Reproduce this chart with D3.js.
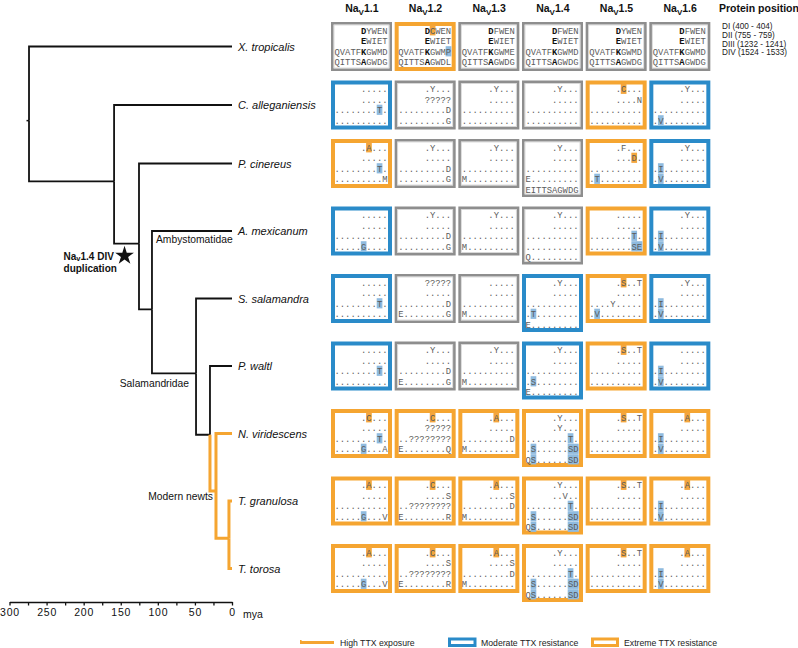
<!DOCTYPE html>
<html><head><meta charset="utf-8">
<script src="https://cdn.jsdelivr.net/npm/d3@7"></script>
<style>body{margin:0;background:#fff}svg{display:block}</style>
</head><body><svg id="c" width="798" height="648"></svg>
<script>
// ---------------- DATA ----------------
const genes = ["1.1","1.2","1.3","1.4","1.5","1.6"];
const species = ["X. tropicalis","C. alleganiensis","P. cinereus","A. mexicanum","S. salamandra","P. waltl","N. viridescens","T. granulosa","T. torosa"];
const proteinPositions = ["DI (400 - 404)","DII (755 - 759)","DIII (1232 - 1241)","DIV (1524 - 1533)"];
// n = no resistance (grey), m = moderate (blue), e = extreme (orange), one letter per gene
const resistance = ["nennnn","mnnnem","ennnem","mnnnem","mnnmem","mnnmem","eeeeee","eeeeee","eeeeee"];
// sequence lines separated by "|"; ^ = bold, * = orange highlight, # = blue highlight (applies to next char)
const seqXtropicalis = ["^DYWEN|^EWIET|QVATF^KGWMD|QITTS^AGWDG","^D*CWEN|^EWIET|QVATF^KGWM#P|QITTS^AGWDL","^DFWEN|^EWIET|QVATF^KGWME|QITTS^AGWDG","^DFWEN|^EWIET|QVATF^KGWMD|QITTS^AGWDG","^DYWEN|^EWIET|QVATF^KGWMD|QITTS^AGWDG","^DFWEN|^EWIET|QVATF^KGWMD|QITTS^AGWDG"];
const seqCalleganiensis = [".....|.....|........#T.|..........",".Y...|?????|.........D|.........G",".Y...|.....|..........|..........",".Y...|.....|..........|..........",".*C...|....N|..........|..........",".Y...|.....|..........|.#V........"];
const seqPcinereus = [".*A...|.....|........#T.|.........M",".Y...|.....|.........D|.........G",".Y...|.....|..........|M.........",".Y...|.....|..........|E.........|EITTSAGWDG",".F...|...*D.|..........|.#T........",".Y...|.....|.#I........|.#V........"];
const seqAmexicanum = [".....|.....|..........|.....#G....",".Y...|.....|.........D|.........G",".Y...|.....|..........|M.........",".Y...|.....|..........|..........|Q.........",".....|.....|........#T.|........#S#E",".Y...|.....|.#I........|.#V........"];
const seqSsalamandra = [".....|.....|........#T.|..........","?????|.....|.........D|E........G",".....|.....|..........|M.........",".Y...|.....|..........|.#T........|E.........",".*S..T|.....|....Y.....|.#V........",".Y...|.....|.#I........|.#V........"];
const seqPwaltl = [".....|.....|........#T.|..........",".Y...|.....|.........D|E........G",".Y...|.....|..........|M.........",".Y...|.....|..........|.#S........|E.........",".*S..T|.....|..........|..........",".....|.....|.#I........|.#V........"];
const seqNviridescens = [".*C...|.....|........#T.|.....#G...A",".*C...|?????|..????????|E........Q",".*A...|.....|.........D|M.........",".Y...|.Y...|........#T.|.#S......#S#D|Q#S......#S#D",".*S..T|.....|..........|..........",".*A...|.....|.#I........|.#V........"];
const seqTgranulosa = [".*A...|.....|..........|.....#G...V",".*C...|....S|..????????|E........R",".*A...|....S|.........D|M.........",".Y...|..V..|........#T.|.#S......#S#D|Q#S......#S#D",".*S..T|.....|..........|..........",".*A...|.....|.#I........|.#V........"];
const seqTtorosa = [".*A...|.....|..........|.....#G...V",".*C...|....S|..????????|E........R",".*A...|....S|.........D|M.........",".Y...|.....|........#T.|.#S......#S#D|Q#S......#S#D",".*S..T|.....|..........|..........",".*A...|.....|.#I........|.#V........"];
const sequences = [seqXtropicalis,seqCalleganiensis,seqPcinereus,seqAmexicanum,seqSsalamandra,seqPwaltl,seqNviridescens,seqTgranulosa,seqTtorosa];
// tree: node ages in million years
const treeNodes = [
  {id:"root", parent:null, age:273.7},
  {id:"X. tropicalis", parent:"root", age:0},
  {id:"n1", parent:"root", age:159},
  {id:"C. alleganiensis", parent:"n1", age:0},
  {id:"n2", parent:"n1", age:125.4},
  {id:"P. cinereus", parent:"n2", age:0},
  {id:"n3", parent:"n2", age:107.9},
  {id:"A. mexicanum", parent:"n3", age:0},
  {id:"Salamandridae", parent:"n3", age:48.5},
  {id:"S. salamandra", parent:"Salamandridae", age:0},
  {id:"n5", parent:"Salamandridae", age:29.7},
  {id:"P. waltl", parent:"n5", age:0},
  {id:"Modern newts", parent:"n5", age:21.6},
  {id:"N. viridescens", parent:"Modern newts", age:0},
  {id:"n7", parent:"Modern newts", age:4.1},
  {id:"T. granulosa", parent:"n7", age:0},
  {id:"T. torosa", parent:"n7", age:0}
];
const highExposure = ["Modern newts","n7","N. viridescens","T. granulosa","T. torosa"];
const axisTicks = [0,25,50,75,100,125,150,175,200,225,250,275,300];
const legendItems = ["High TTX exposure","Moderate TTX resistance","Extreme TTX resistance"];

// ---------------- STYLE ----------------
const ORANGE = "#f5a531", BLUE = "#2a8bc9", GREY = "#8e8e8e";
const HL_OR = "#f4a63d", HL_BL = "#8fbbdf";
const borderColor = {n:GREY, m:BLUE, e:ORANGE};
const MONO = "'Liberation Mono','DejaVu Sans Mono',monospace";
const SANS = "'Liberation Sans',Arial,sans-serif";
const CW = 5.3, LINE = 10.5;

const svg = d3.select("#c");
svg.append("rect").attr("width",798).attr("height",648).attr("fill","#fff");

function parseLine(s){
  const out=[]; let flag=null;
  for(const ch of s){
    if(ch==="^"||ch==="*"||ch==="#"){flag=ch;continue;}
    out.push({ch, bold:flag==="^", hl: flag==="*"?"o":flag==="#"?"b":null});
    flag=null;
  }
  return out;
}

// ---------------- LAYOUT OF ROWS ----------------
const col = d3.scaleBand().domain(genes).range([330,712]);
const rowInfo = [];
let rowTop = 22;
species.forEach((sp,i)=>{
  const maxLines = d3.max(sequences[i], s=>s.split("|").length);
  const h = maxLines>4 ? 58 : 49;
  rowInfo.push({sp, top: rowTop, center: rowTop+24.5});
  rowTop += h + 9.5;
});

// ---------------- HEADERS ----------------
const hdr = svg.append("g").attr("font-family",SANS).attr("font-weight","bold").attr("font-size",10.5).attr("fill","#111");
genes.forEach(g=>{
  const t = hdr.append("text").attr("x",col(g)+col.bandwidth()/2).attr("y",12).attr("text-anchor","middle");
  t.append("tspan").text("Na");
  t.append("tspan").attr("font-size",8).attr("dy",2.5).text("V");
  t.append("tspan").attr("dy",-2.5).text(g);
});
hdr.append("text").attr("x",719).attr("y",12).text("Protein position");
svg.append("g").attr("font-family",SANS).attr("font-size",8.2).attr("fill","#222")
  .selectAll("text").data(proteinPositions).join("text")
  .attr("x",722).attr("y",(d,i)=>29+i*8.8).text(d=>d);

// ---------------- ALIGNMENT BOXES ----------------
const boxes = svg.append("g");
species.forEach((sp,i)=>{
  const r = rowInfo[i];
  genes.forEach((g,j)=>{
    const lines = sequences[i][j].split("|").map(parseLine);
    const h = lines.length>4 ? 58 : 49;
    const code = resistance[i][j];
    const sw = code==="n" ? 2.6 : 4;
    const bx = col(g)+1;
    const cell = boxes.append("g");
    cell.append("rect").attr("x",bx+sw/2).attr("y",r.top+sw/2)
      .attr("width",61-sw).attr("height",h-sw)
      .attr("fill","#fff").attr("stroke",borderColor[code]).attr("stroke-width",sw);
    if(code==="n"){
      cell.append("rect").attr("x",bx+sw+0.4).attr("y",r.top+sw+0.4)
        .attr("width",61-2*sw-0.8).attr("height",h-2*sw-0.8)
        .attr("fill","none").attr("stroke","#d2d2d2").attr("stroke-width",0.8);
    }
    const right = col(g)+57.5;
    lines.forEach((chars,k)=>{
      const base = r.top + 11.5 + k*LINE;
      const L = chars.length;
      chars.forEach((c,ci)=>{
        if(c.hl){
          cell.append("rect").attr("x",right-(L-ci)*CW-0.2).attr("y",base-8.3)
            .attr("width",CW+0.4).attr("height",10.2).attr("fill",c.hl==="o"?HL_OR:HL_BL);
        }
      });
      const t = cell.append("text").attr("x",right).attr("y",base).attr("text-anchor","end")
        .attr("font-family",MONO).attr("font-size",8.83).attr("fill","#5c5c5c");
      let run="", runBold=null;
      const flush=()=>{ if(run){ const ts=t.append("tspan").attr("font-weight",runBold?"bold":"normal").text(run); if(runBold) ts.attr("fill","#111"); } };
      chars.forEach(c=>{ if(c.bold!==runBold){flush(); run=""; runBold=c.bold;} run+=c.ch; });
      flush();
    });
  });
});

// ---------------- TREE ----------------
const x = d3.scaleLinear().domain([300,0]).range([9.5,232]);
const root = d3.stratify().id(d=>d.id).parentId(d=>d.parent)(treeNodes);
root.eachAfter(n=>{
  n.px = x(n.data.age);
  if(!n.children){ n.py = rowInfo[species.indexOf(n.id)].center; }
  else { const a=n.children[0].py, b=n.children[n.children.length-1].py; n.py = a + 0.55*(b-a); }
});
const tree = svg.append("g").attr("fill","none");
const links = root.descendants().filter(n=>n.parent);
const isHigh = n=>highExposure.includes(n.id);
tree.selectAll("path.l").data(links.filter(n=>!isHigh(n))).join("path")
  .attr("d",n=>`M${n.parent.px},${n.parent.py}V${n.py}H${n.px}`)
  .attr("stroke","#111").attr("stroke-width",1.8);
tree.selectAll("path.h").data(links.filter(isHigh)).join("path")
  .attr("d",n=>`M${n.parent.px},${n.parent.py}V${n.py}H${n.px}`)
  .attr("stroke",ORANGE).attr("stroke-width",3);
tree.append("line").attr("x1",root.px-2.5).attr("x2",root.px).attr("y1",root.py).attr("y2",root.py)
  .attr("stroke","#111").attr("stroke-width",1.5);

// leaf labels
svg.append("g").attr("font-family",SANS).attr("font-style","italic").attr("font-size",11).attr("fill","#111")
  .selectAll("text").data(root.leaves()).join("text")
  .attr("x",n=>n.px+6).attr("y",n=>n.py+4).text(n=>n.id);

// clade labels
const nodeById = id=>root.descendants().find(n=>n.id===id);
const lab = svg.append("g").attr("font-family",SANS).attr("font-size",10.3).attr("fill","#111");
const amex = nodeById("A. mexicanum"), n3 = nodeById("n3");
lab.append("text").attr("x",n3.px+4).attr("y",amex.py+12).text("Ambystomatidae");
const sal = nodeById("Salamandridae");
lab.append("text").attr("x",sal.px-7).attr("y",sal.py+13.5).attr("text-anchor","end").text("Salamandridae");
const mn = nodeById("Modern newts");
lab.append("text").attr("x",mn.px-3).attr("y",mn.py+9).attr("text-anchor","end").text("Modern newts");

// duplication star on branch n1 -> n2
const n2 = nodeById("n2");
const sx = (n2.parent.px+n2.px)/2 - 2, sy = n2.py + 12;
svg.append("path").attr("d",d3.symbol(d3.symbolStar,110)()).attr("transform",`translate(${sx},${sy})`).attr("fill","#111");
const dup = svg.append("g").attr("font-family",SANS).attr("font-weight","bold").attr("font-size",10).attr("fill","#111");
const t1 = dup.append("text").attr("x",sx-61).attr("y",sy+4);
t1.append("tspan").text("Na"); t1.append("tspan").attr("font-size",7.5).attr("dy",1.5).text("v"); t1.append("tspan").attr("dy",-1.5).text("1.4 DIV");
dup.append("text").attr("x",sx-61).attr("y",sy+16).text("duplication");

// ---------------- AXIS ----------------
const ax = svg.append("g").attr("transform","translate(0,602)")
  .call(d3.axisBottom(x).tickValues(axisTicks).tickSize(3.5).tickSizeOuter(0).tickFormat(d=>d%50===0?d:""));
ax.select(".domain").attr("stroke","#111").attr("stroke-width",1.5);
ax.selectAll(".tick line").attr("stroke","#111").attr("stroke-width",1.3);
ax.selectAll(".tick text").attr("font-family",SANS).attr("font-size",10.5).attr("fill","#111").attr("letter-spacing",0.8).attr("y",7);
svg.append("text").attr("x",243).attr("y",618).attr("font-family",SANS).attr("font-size",10.5).attr("fill","#111").text("mya");

// ---------------- LEGEND ----------------
const lg = svg.append("g").attr("font-family",SANS).attr("font-size",8.7).attr("fill","#222");
lg.append("line").attr("x1",300).attr("x2",334).attr("y1",642.5).attr("y2",642.5).attr("stroke",ORANGE).attr("stroke-width",3);
lg.append("line").attr("x1",300.8).attr("x2",300.8).attr("y1",640).attr("y2",644).attr("stroke",ORANGE).attr("stroke-width",1.6);
lg.append("text").attr("x",340).attr("y",645.5).text(legendItems[0]);
lg.append("rect").attr("x",449.5).attr("y",639).attr("width",25.5).attr("height",6.5).attr("fill","#fff").attr("stroke",BLUE).attr("stroke-width",3);
lg.append("text").attr("x",481).attr("y",645.5).text(legendItems[1]);
lg.append("rect").attr("x",592.5).attr("y",639).attr("width",25).attr("height",6.5).attr("fill","#fff").attr("stroke",ORANGE).attr("stroke-width",3);
lg.append("text").attr("x",624).attr("y",645.5).text(legendItems[2]);
</script>
</body></html>
